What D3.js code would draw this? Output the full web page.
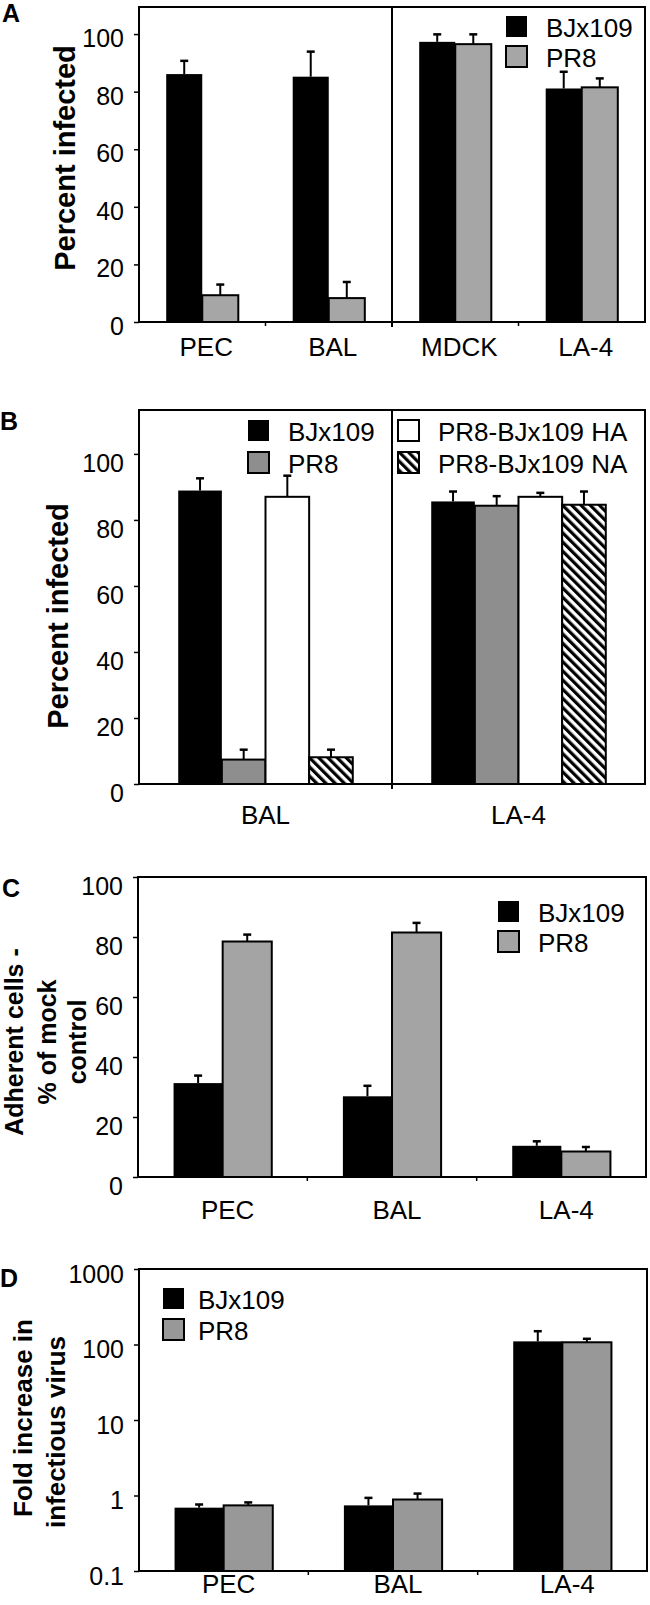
<!DOCTYPE html>
<html><head><meta charset="utf-8">
<script src="https://cdn.jsdelivr.net/npm/d3@7"></script>
<style>
body{margin:0;background:#fff}
text{font-family:"Liberation Sans",Arial,Helvetica,sans-serif;fill:#000}
</style>
</head><body>
<svg id="c" width="650" height="1605"></svg>
<script>
// ---------- DATA ----------
// Panel A: Percent infected
const catsA = ["PEC", "BAL", "MDCK", "LA-4"];
const aBJx109 = [86.1, 85.2, 97.3, 81.1];
const aBJx109Hi = [90.7, 93.9, 99.9, 86.9];
const aPR8 = [9.3, 8.3, 96.5, 81.5];
const aPR8Hi = [13.0, 13.9, 99.9, 84.6];
const ticksA = [0, 20, 40, 60, 80, 100];

// Panel B: Percent infected, reassortants
const catsB = ["BAL", "LA-4"];
const bBJx109 = [88.9, 85.6];
const bBJx109Hi = [92.6, 88.6];
const bPR8 = [7.4, 84.3];
const bPR8Hi = [10.4, 87.2];
const bHA = [87.0, 87.0];
const bHAHi = [93.4, 88.2];
const bNA = [8.1, 84.6];
const bNAHi = [10.4, 88.6];
const ticksB = [0, 20, 40, 60, 80, 100];

// Panel C: Adherent cells - % of mock control
const catsC = ["PEC", "BAL", "LA-4"];
const cBJx109 = [31.3, 26.9, 10.4];
const cBJx109Hi = [33.8, 30.4, 11.9];
const cPR8 = [78.5, 81.5, 8.5];
const cPR8Hi = [80.8, 84.7, 10.0];
const ticksC = [0, 20, 40, 60, 80, 100];

// Panel D: Fold increase in infectious virus (log)
const catsD = ["PEC", "BAL", "LA-4"];
const dBJx109 = [0.69, 0.74, 110];
const dBJx109Hi = [0.76, 0.93, 150];
const dPR8 = [0.74, 0.885, 107];
const dPR8Hi = [0.81, 1.06, 119];
const ticksD = [0.1, 1, 10, 100, 1000];
const tickLabelsD = ["0.1", "1", "10", "100", "1000"];

// ---------- DRAWING ----------
const svg = d3.select("#c");
const defs = svg.append("defs");
const pat = defs.append("pattern").attr("id", "hatch")
  .attr("patternUnits", "userSpaceOnUse").attr("width", 6.5).attr("height", 6.5)
  .attr("patternTransform", "rotate(-45)");
pat.append("rect").attr("width", 6.5).attr("height", 6.5).attr("fill", "#fff");
pat.append("rect").attr("width", 3.2).attr("height", 6.5).attr("fill", "#000");

const fills = {
  black: "#000",
  grayA: "#a6a6a6",
  grayB: "#8e8e8e",
  grayC: "#a4a4a4",
  grayD: "#989898",
  white: "#fff",
  hatch: "url(#hatch)"
};

function panel(o) {
  const g = svg.append("g");
  const x = d3.scaleBand().domain(o.cats).range([o.x0, o.x1]);
  const y = (o.log ? d3.scaleLog() : d3.scaleLinear()).domain(o.yDom).range([o.yB, o.yT]);
  const gw = x.bandwidth() * o.groupFrac;
  const sub = d3.scaleBand().domain(o.series.map(s => s.name)).range([0, gw]);
  const base = y(o.yDom[0]);

  // bars
  o.series.forEach(s => {
    o.cats.forEach((c, i) => {
      const bx = x(c) + x.bandwidth() / 2 - gw / 2 + sub(s.name) + (o.groupDx || 0);
      const isBlack = s.fill === "black";
      g.append("rect")
        .attr("x", bx).attr("y", y(s.values[i]))
        .attr("width", sub.bandwidth()).attr("height", base - y(s.values[i]))
        .attr("fill", fills[s.fill])
        .attr("stroke", "#000").attr("stroke-width", isBlack ? 0 : 2);
      // error bar
      const cx = bx + sub.bandwidth() / 2;
      g.append("line").attr("x1", cx).attr("x2", cx)
        .attr("y1", y(s.values[i])).attr("y2", y(s.hi[i]))
        .attr("stroke", "#000").attr("stroke-width", 2);
      g.append("line").attr("x1", cx - 4).attr("x2", cx + 4)
        .attr("y1", y(s.hi[i])).attr("y2", y(s.hi[i]))
        .attr("stroke", "#000").attr("stroke-width", 2.5);
    });
  });

  // box
  g.append("rect").attr("x", o.x0).attr("y", o.yT)
    .attr("width", o.x1 - o.x0).attr("height", o.yB - o.yT)
    .attr("fill", "none").attr("stroke", "#000").attr("stroke-width", 2);

  // divider
  if (o.dividerAfter !== undefined) {
    const dx = x(o.cats[o.dividerAfter + 1]);
    g.append("line").attr("x1", dx).attr("x2", dx)
      .attr("y1", o.yT).attr("y2", o.yB + 5)
      .attr("stroke", "#000").attr("stroke-width", 2);
  }
  // category boundary ticks
  o.cats.slice(1).forEach(c => {
    g.append("line").attr("x1", x(c)).attr("x2", x(c))
      .attr("y1", o.yB).attr("y2", o.yB + 4)
      .attr("stroke", "#000").attr("stroke-width", 1.5);
  });

  // y axis
  const ax = d3.axisLeft(y).tickValues(o.ticks).tickSize(5).tickPadding(10)
    .tickFormat((d, i) => o.tickLabels ? o.tickLabels[i] : d);
  const ag = g.append("g").attr("transform", `translate(${o.x0},0)`).call(ax);
  ag.select(".domain").remove();
  ag.selectAll(".tick line").attr("stroke", "#000").attr("stroke-width", 1.5);
  ag.selectAll(".tick text").attr("font-size", 25).attr("dy", o.tickDy)
    .style("font-family", '"Liberation Sans",Arial,sans-serif').attr("fill", "#000");

  // category labels
  o.cats.forEach(c => {
    g.append("text").attr("x", x(c) + x.bandwidth() / 2 + (o.catDx || 0)).attr("y", o.catY)
      .attr("text-anchor", "middle").attr("font-size", 26).text(c);
  });

  // legend
  o.legend.forEach(l => {
    g.append("rect").attr("x", l.x).attr("y", l.y).attr("width", 21).attr("height", 21)
      .attr("fill", fills[l.fill]).attr("stroke", "#000").attr("stroke-width", l.fill === "black" ? 0 : 2);
    g.append("text").attr("x", l.x + (o.legendGap || 40)).attr("y", l.y + 21).attr("font-size", 26).text(l.name);
  });

  // panel letter
  g.append("text").attr("x", o.letterX).attr("y", o.letterY)
    .attr("font-size", 25).attr("font-weight", "bold").text(o.letter);

  // y title
  o.title.forEach(t => {
    g.append("text").attr("transform", `translate(${t.x},${t.y || o.titleY}) rotate(-90)`)
      .attr("text-anchor", "middle").attr("dominant-baseline", "central")
      .attr("font-size", o.titleSize).attr("font-weight", "bold").text(t.text);
  });
}

panel({
  letter: "A", letterX: 2, letterY: 22,
  cats: catsA, x0: 139, x1: 645, yT: 7, yB: 322, yDom: [0, 109.4],
  ticks: ticksA, tickDy: 12.5, groupFrac: 0.57, catY: 356, catDx: 4,
  dividerAfter: 1,
  series: [
    { name: "BJx109", fill: "black", values: aBJx109, hi: aBJx109Hi },
    { name: "PR8", fill: "grayA", values: aPR8, hi: aPR8Hi }
  ],
  legend: [
    { name: "BJx109", fill: "black", x: 506, y: 16 },
    { name: "PR8", fill: "grayA", x: 506, y: 46 }
  ],
  title: [{ x: 65, text: "Percent infected" }], titleY: 158, titleSize: 29
});

panel({
  letter: "B", letterX: 0, letterY: 430,
  cats: catsB, x0: 139, x1: 645, yT: 410, yB: 784, yDom: [0, 113.3],
  ticks: ticksB, tickDy: 17.5, groupFrac: 0.69, catY: 824, catDx: 0,
  dividerAfter: 0,
  series: [
    { name: "BJx109", fill: "black", values: bBJx109, hi: bBJx109Hi },
    { name: "PR8", fill: "grayB", values: bPR8, hi: bPR8Hi },
    { name: "PR8-BJx109 HA", fill: "white", values: bHA, hi: bHAHi },
    { name: "PR8-BJx109 NA", fill: "hatch", values: bNA, hi: bNAHi }
  ],
  legend: [
    { name: "BJx109", fill: "black", x: 248, y: 420 },
    { name: "PR8", fill: "grayB", x: 248, y: 452 },
    { name: "PR8-BJx109 HA", fill: "white", x: 398, y: 420 },
    { name: "PR8-BJx109 NA", fill: "hatch", x: 398, y: 452 }
  ],
  title: [{ x: 58, text: "Percent infected" }], titleY: 616, titleSize: 29
});

panel({
  letter: "C", letterX: 2, letterY: 897,
  cats: catsC, x0: 138, x1: 646, yT: 877, yB: 1177, yDom: [0, 100],
  ticks: ticksC, tickDy: 17, groupFrac: 0.58, catY: 1219, catDx: 5,
  series: [
    { name: "BJx109", fill: "black", values: cBJx109, hi: cBJx109Hi },
    { name: "PR8", fill: "grayC", values: cPR8, hi: cPR8Hi }
  ],
  legend: [
    { name: "BJx109", fill: "black", x: 498, y: 901 },
    { name: "PR8", fill: "grayC", x: 498, y: 931 }
  ],
  title: [
    { x: 14, text: "Adherent cells -" },
    { x: 47, text: "% of mock" },
    { x: 77, text: "control" }
  ], titleY: 1042, titleSize: 25
});

panel({
  letter: "D", letterX: 0, letterY: 1287,
  cats: catsD, x0: 139, x1: 647, yT: 1269, yB: 1571, yDom: [0.1, 1000], log: true,
  ticks: ticksD, tickLabels: tickLabelsD, tickDy: 13, groupFrac: 0.58, catY: 1593, catDx: 5,
  legendGap: 35,
  series: [
    { name: "BJx109", fill: "black", values: dBJx109, hi: dBJx109Hi },
    { name: "PR8", fill: "grayD", values: dPR8, hi: dPR8Hi }
  ],
  legend: [
    { name: "BJx109", fill: "black", x: 163, y: 1288 },
    { name: "PR8", fill: "grayD", x: 163, y: 1319 }
  ],
  title: [
    { x: 23, y: 1418, text: "Fold increase in" },
    { x: 56, y: 1432, text: "infectious virus" }
  ], titleY: 1430, titleSize: 26
});
</script>
</body></html>
